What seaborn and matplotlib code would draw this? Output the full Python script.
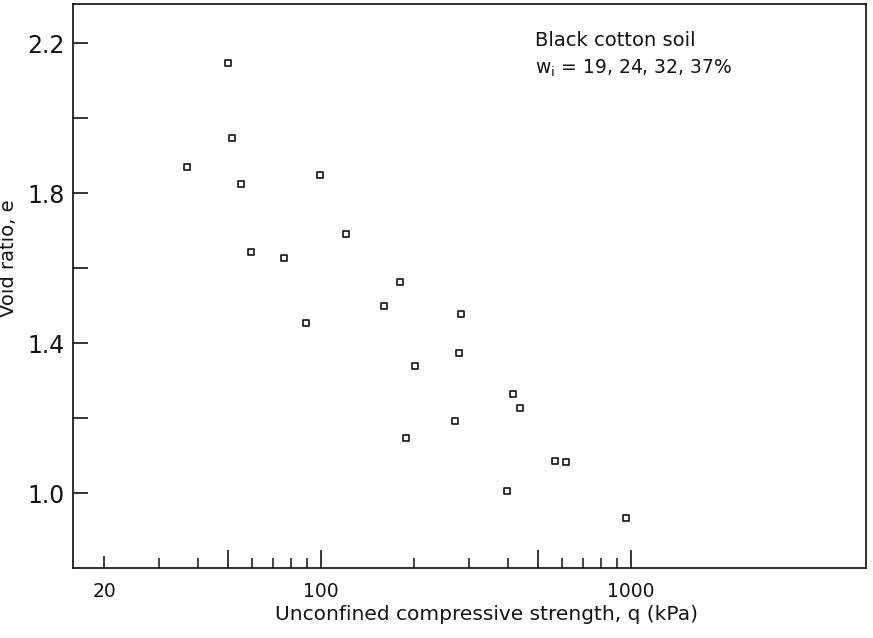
import numpy as np
import pandas as pd
import seaborn as sns
import matplotlib.pyplot as plt
from matplotlib.ticker import FixedLocator, FixedFormatter, NullFormatter

# Unconfined compressive strength q (kPa) and void ratio e
q_kpa = [50, 51.6, 37, 55.2, 99.3, 120.4, 59.4, 76, 89.5, 180, 160,
         283, 279, 201, 416, 438, 270, 188, 398, 569, 616, 963]
void_ratio = [2.147, 1.947, 1.869, 1.824, 1.848, 1.691, 1.643, 1.627, 1.453, 1.563, 1.499,
              1.477, 1.373, 1.339, 1.264, 1.227, 1.192, 1.147, 1.005, 1.085, 1.083, 0.933]

x_major = [20, 50, 100, 500, 1000]
x_major_labels = ['20', '', '100', '', '1000']
x_minor = [30, 40, 60, 70, 80, 90, 200, 300, 400, 600, 700, 800, 900]
y_major = [1.0, 1.4, 1.8, 2.2]
y_major_labels = ['1.0', '1.4', '1.8', '2.2']
y_minor = [1.2, 1.6, 2.0]

df = pd.DataFrame({'q': q_kpa, 'e': void_ratio})

sns.set_style('ticks')
plt.rcParams['font.family'] = ['DejaVu Sans']
ink = '#141414'

fig = plt.figure(figsize=(8.73, 6.38), dpi=100)
ax = fig.add_axes([0.0836, 0.1097, 0.9084, 0.884])

sns.scatterplot(data=df, x='q', y='e', ax=ax, marker='s', s=22,
                facecolor='white', edgecolor=ink, linewidth=1.2, zorder=3)

ax.set_xscale('log')
ax.set_xlim(15.85, 5730)
ax.set_ylim(0.80, 2.304)

ax.xaxis.set_major_locator(FixedLocator(x_major))
ax.xaxis.set_major_formatter(FixedFormatter(x_major_labels))
ax.xaxis.set_minor_locator(FixedLocator(x_minor))
ax.xaxis.set_minor_formatter(NullFormatter())
ax.yaxis.set_major_locator(FixedLocator(y_major))
ax.yaxis.set_major_formatter(FixedFormatter(y_major_labels))
ax.yaxis.set_minor_locator(FixedLocator(y_minor))

ax.tick_params(axis='x', which='major', direction='in', length=13, width=1.2,
               color=ink, labelsize=13.5, pad=10, labelcolor=ink)
ax.tick_params(axis='x', which='minor', direction='in', length=7.5, width=1.1, color=ink)
ax.tick_params(axis='y', which='both', direction='in', length=11, width=1.2,
               color=ink, labelsize=17, pad=6, labelcolor=ink)
# the tick at 20 is shorter than the other labelled ones
ax.xaxis.get_major_ticks()[0].tick1line.set_markersize(9)

for sp in ax.spines.values():
    sp.set_linewidth(1.25)
    sp.set_color(ink)

ax.set_xlabel('Unconfined compressive strength, q (kPa)', fontsize=14.5, color=ink)
ax.set_ylabel('Void ratio, e', fontsize=14, color=ink)
ax.xaxis.set_label_coords(0.521, -0.066)
ax.yaxis.set_label_coords(-0.069, 0.55)

ax.text(0.583, 0.952, 'Black cotton soil', transform=ax.transAxes,
        fontsize=14, color=ink, va='top', ha='left')
ax.text(0.583, 0.905, r'w$_{\mathregular{i}}$ = 19, 24, 32, 37%', transform=ax.transAxes,
        fontsize=13.5, color=ink, va='top', ha='left')

fig.savefig('out.png', dpi=100)
